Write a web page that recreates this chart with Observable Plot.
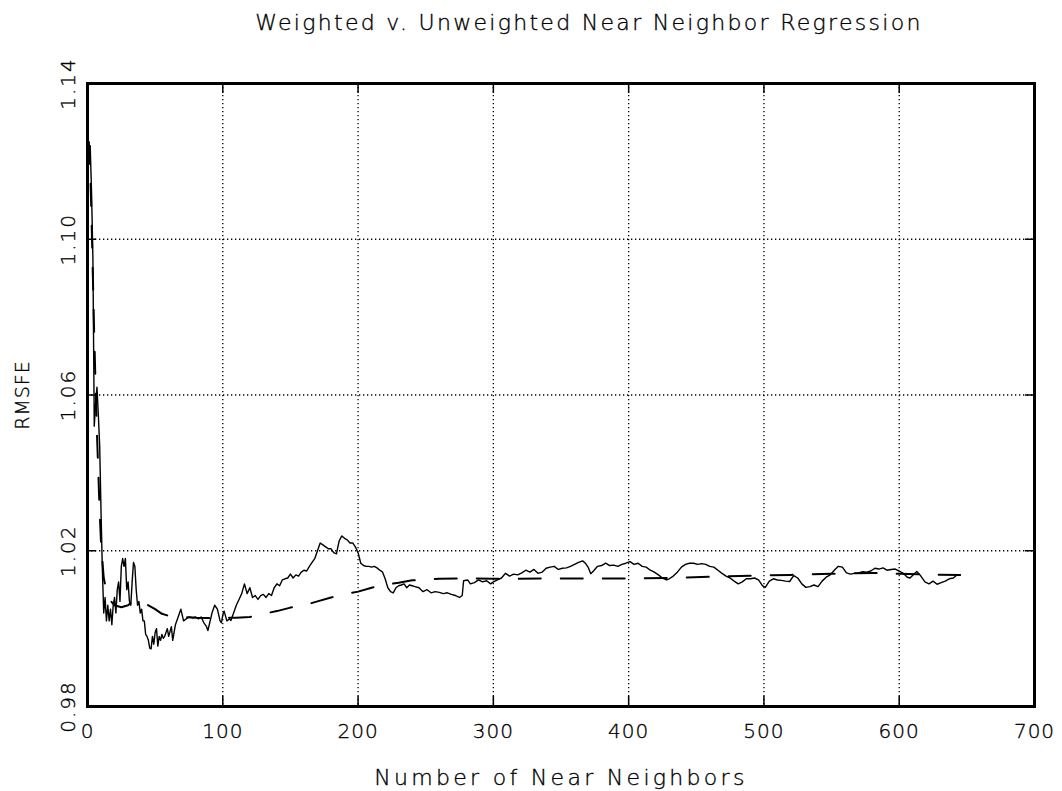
<!DOCTYPE html>
<html>
<head>
<meta charset="utf-8">
<script src="https://cdn.jsdelivr.net/npm/d3@7"></script>
<script src="https://cdn.jsdelivr.net/npm/@observablehq/plot@0.6"></script>
<style>
  html, body { margin: 0; padding: 0; background: #fff; }
  #chart svg { display: block; }
</style>
</head>
<body>
<div id="chart"></div>
<script>
const titleText = "Weighted v. Unweighted Near Neighbor Regression";
const xLabel = "Number of Near Neighbors";
const yLabel = "RMSFE";
const xTicks = [0, 100, 200, 300, 400, 500, 600, 700];
const yTicks = [0.98, 1.02, 1.06, 1.10, 1.14];
const yTickLabels = ["0.98", "1.02", "1.06", "1.10", "1.14"];

// Weighted (solid) series: number of neighbors, RMSFE
const solidK = [1,2,3,4,5,6,7,8,9,10,11,12,13,14,15,16,17,18,19,20,21,22,23,24,25,26,27,28,29,30,31,32,33,34,35,36,37,38,39,40,41,42,43,44,45,46,47,48,49,50,51,52,53,54,55,56,57,58,59,60,62,63,65,67,69,71,73,75,78,80,82,84,86,88,89,90,92,94,96,98,99,100,101,103,105,106,108,110,112,114,116,118,120,122,124,126,128,130,132,134,136,138,140,142,144,146,148,150,152,154,156,158,160,162,164,166,168,170,172,174,176,178,180,182,184,186,188,190,192,194,196,198,200,202,204,206,208,210,212,214,216,218,220,222,224,226,228,230,232,234,236,238,240,242,245,248,251,254,257,260,263,266,269,272,275,277,278,281,283,286,289,292,295,298,300,303,306,309,312,315,318,321,324,327,330,333,336,339,342,345,348,351,354,357,360,363,366,368,370,372,374,377,380,383,386,389,392,395,398,401,404,407,410,413,416,419,422,425,428,430,433,436,439,442,445,448,451,454,457,460,463,466,469,472,475,478,481,484,487,490,493,496,499,501,504,507,510,513,516,519,522,525,528,531,534,537,540,543,546,549,552,555,558,561,564,567,570,573,576,579,582,585,588,591,594,597,600,603,606,608,611,613,616,619,622,625,628,631,634,637,640,642,645];
const solidV = [1.121,1.124,1.112,1.095,1.052,1.058,1.062,1.055,1.047,1.030,1.015,1.004,1.008,1.002,1.006,1.002,1.005,1.001,1.006,1.008,1.004,1.010,1.012,1.007,1.016,1.018,1.016,1.018,1.010,1.012,1.007,1.006,1.012,1.017,1.016,1.010,1.006,1.007,1.004,1.005,1.002,1.002,0.9985,0.998,0.997,0.995,0.9948,0.998,0.996,0.999,1.000,0.9955,0.998,0.997,0.9985,0.9975,0.998,0.999,1.000,0.998,1.0005,0.997,1.001,1.003,1.005,1.002,1.0025,1.003,1.0028,1.003,1.0025,1.003,1.0015,1.0005,0.9995,1.001,1.004,1.006,1.005,1.002,1.0015,1.0035,1.0045,1.002,1.0025,1.0021,1.004,1.006,1.0075,1.009,1.0115,1.009,1.0105,1.008,1.0085,1.0075,1.0085,1.0088,1.008,1.009,1.0085,1.0105,1.0115,1.011,1.0125,1.0128,1.013,1.014,1.013,1.0138,1.0135,1.0145,1.015,1.0148,1.016,1.017,1.018,1.020,1.022,1.0215,1.021,1.0205,1.0205,1.0195,1.0192,1.0225,1.0238,1.0232,1.0228,1.022,1.022,1.021,1.0195,1.0168,1.0162,1.016,1.016,1.0158,1.016,1.0156,1.015,1.0146,1.0128,1.0105,1.0095,1.0092,1.0105,1.011,1.0112,1.0115,1.0105,1.0112,1.011,1.0108,1.0105,1.0095,1.010,1.0092,1.0095,1.0093,1.009,1.0092,1.0088,1.0085,1.008,1.0085,1.0123,1.0125,1.0115,1.0118,1.0125,1.012,1.0123,1.0115,1.012,1.0125,1.013,1.0142,1.0135,1.014,1.0138,1.0143,1.015,1.0145,1.0152,1.0142,1.0145,1.0155,1.0158,1.016,1.0152,1.0155,1.0156,1.016,1.0165,1.017,1.0174,1.0168,1.0158,1.0141,1.0148,1.016,1.0162,1.0168,1.0162,1.0163,1.016,1.0165,1.0168,1.0172,1.0165,1.0168,1.016,1.0158,1.015,1.0145,1.0138,1.013,1.0125,1.0128,1.0135,1.0145,1.0158,1.0165,1.0168,1.0168,1.0165,1.0167,1.0165,1.016,1.0158,1.015,1.0142,1.0135,1.013,1.0122,1.0115,1.012,1.0128,1.0128,1.013,1.0125,1.011,1.0106,1.0122,1.0128,1.0125,1.0124,1.0122,1.0121,1.0136,1.013,1.0115,1.0106,1.0108,1.0112,1.0108,1.0122,1.0132,1.0138,1.015,1.016,1.0158,1.0143,1.014,1.0142,1.0143,1.0146,1.0145,1.0148,1.0155,1.0153,1.0156,1.015,1.0152,1.0153,1.0148,1.0142,1.0132,1.013,1.014,1.0147,1.0135,1.012,1.0115,1.0122,1.0114,1.0118,1.0122,1.0128,1.013,1.0136,1.0138];

// Unweighted (dashed) series
const dashK = [1,2,3,4,5,6,7,8,9,10,12,15,20,25,30,35,40,45,50,55,60,70,80,90,100,110,120,130,140,150,160,170,180,190,200,210,220,230,240,250,260,280,300,350,400,430,460,490,520,550,580,600,620,645];
const dashV = [1.125,1.118,1.105,1.090,1.075,1.062,1.050,1.040,1.030,1.022,1.013,1.008,1.006,1.0055,1.006,1.0075,1.007,1.006,1.005,1.0038,1.0033,1.003,1.0028,1.0027,1.0028,1.0028,1.003,1.0038,1.0045,1.0054,1.006,1.007,1.008,1.0088,1.0095,1.0105,1.0113,1.0118,1.0124,1.0126,1.0128,1.0129,1.0128,1.0129,1.0129,1.013,1.0133,1.0136,1.0138,1.0141,1.0143,1.0141,1.0139,1.0138];

const solid = solidK.map((k, i) => ({k, v: solidV[i]}));
const dashed = dashK.map((k, i) => ({k, v: dashV[i]}));
const gridX = xTicks.slice(1, -1);
const gridY = yTicks.slice(1, -1);

const FONT = "DejaVu Sans";
const txt = {fill: "#000", stroke: "#000", strokeWidth: 0.35, fontWeight: 200};

const chart = Plot.plot({
  width: 1062,
  height: 791,
  marginLeft: 87,
  marginRight: 28,
  marginTop: 83,
  marginBottom: 85,
  style: {fontFamily: FONT, background: "#fff", color: "#000"},
  x: {domain: [0, 700], axis: null},
  y: {domain: [0.98, 1.14], axis: null},
  marks: [
    Plot.gridX(gridX, {stroke: "#000", strokeOpacity: 1, strokeWidth: 1.3, strokeDasharray: "1.3,2.7"}),
    Plot.gridY(gridY, {stroke: "#000", strokeOpacity: 1, strokeWidth: 1.3, strokeDasharray: "1.3,2.7"}),
    // inward tick marks on all four sides
    Plot.tickX(xTicks, {x: d => d, insetTop: 613, stroke: "#000", strokeWidth: 1.5}),
    Plot.tickX(xTicks, {x: d => d, insetBottom: 613, stroke: "#000", strokeWidth: 1.5}),
    Plot.tickY(yTicks, {y: d => d, insetRight: 938, stroke: "#000", strokeWidth: 1.5}),
    Plot.tickY(yTicks, {y: d => d, insetLeft: 938, stroke: "#000", strokeWidth: 1.5}),
    Plot.line(dashed, {x: "k", y: "v", stroke: "#000", strokeWidth: 2, strokeDasharray: "22,20", curve: "linear"}),
    Plot.line(solid, {x: "k", y: "v", stroke: "#000", strokeWidth: 1.4, curve: "linear"}),
    Plot.frame({stroke: "#000", strokeWidth: 3}),
    // tick labels
    Plot.text(xTicks, {x: d => d, frameAnchor: "bottom", dy: 31, text: d => String(d), fontSize: 20, ...txt}),
    Plot.text(yTicks, {y: d => d, frameAnchor: "left", textAnchor: "middle", dx: -19, rotate: -90, text: (d, i) => yTickLabels[i], fontSize: 20, ...txt}),
    // axis labels and title
    Plot.text([xLabel], {frameAnchor: "bottom", textAnchor: "middle", dy: 78, text: d => d, fontSize: 22, ...txt}),
    Plot.text([yLabel], {frameAnchor: "left", textAnchor: "middle", dx: -65, rotate: -90, text: d => d, fontSize: 19, ...txt}),
    Plot.text([titleText], {frameAnchor: "top", textAnchor: "middle", dx: 28, dy: -69, text: d => d, fontSize: 22, ...txt})
  ]
});
// letter spacing to mimic the wide stroke font of the original
const xTickSet = new Set(xTicks.map(String));
const yTickSet = new Set(yTickLabels);
d3.select(chart).selectAll("text").each(function () {
  const t = this.textContent;
  let ls = null;
  if (t === titleText) ls = "2.3px";
  else if (t === xLabel) ls = "3.3px";
  else if (t === yLabel) ls = "1px";
  else if (yTickSet.has(t)) ls = "2px";
  else if (xTickSet.has(t)) ls = "1px";
  if (ls) {
    this.setAttribute("letter-spacing", ls);
    this.style.letterSpacing = ls;
  }
});
document.getElementById("chart").appendChild(chart);
</script>
</body>
</html>
